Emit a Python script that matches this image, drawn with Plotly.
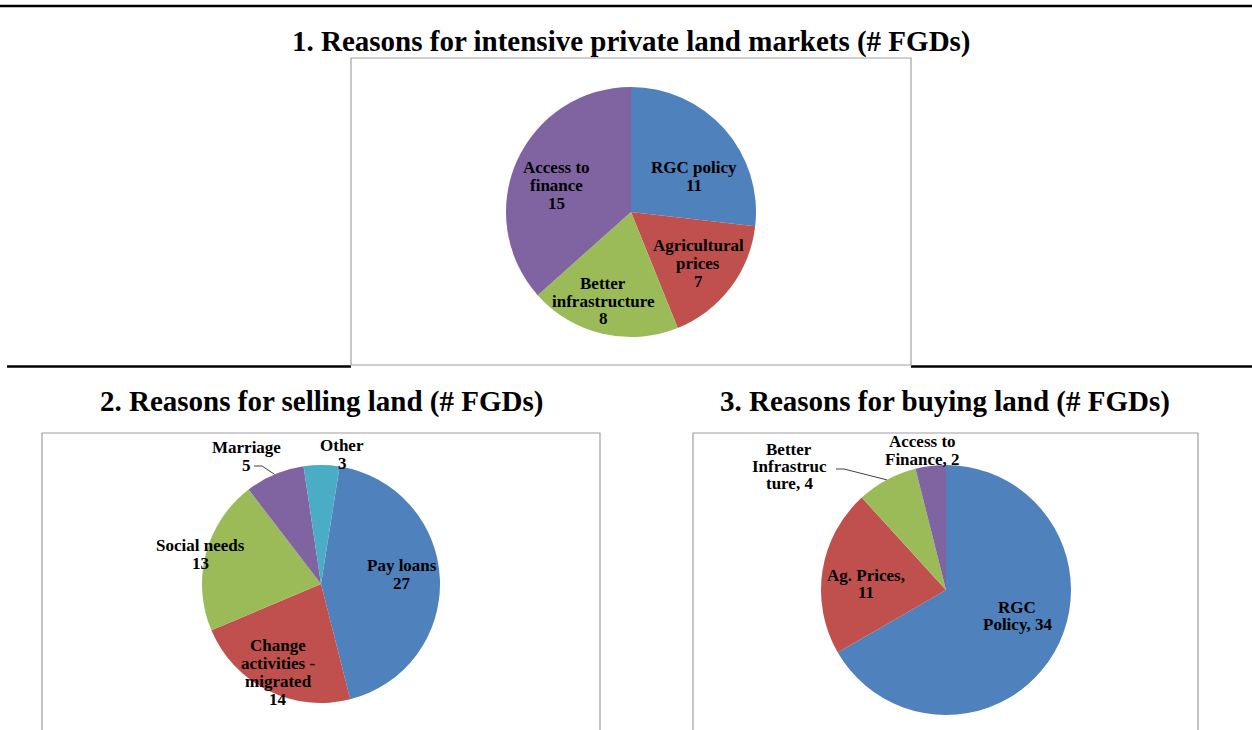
import math
import plotly.graph_objects as go

# ---------------- data ----------------
pie1_labels = ["RGC policy", "Agricultural prices", "Better infrastructure", "Access to finance"]
pie1_values = [11, 7, 8, 15]

pie2_labels = ["Pay loans", "Change activities - migrated", "Social needs", "Marriage", "Other"]
pie2_values = [27, 14, 13, 5, 3]

pie3_labels = ["RGC Policy", "Ag. Prices", "Better Infrastructure", "Access to Finance"]
pie3_values = [34, 11, 4, 2]

titles = ["1. Reasons for intensive private land markets (# FGDs)",
          "2. Reasons for selling land (# FGDs)",
          "3. Reasons for buying land (# FGDs)"]

# ---------------- styling / layout ----------------
W, H = 1252, 730
BLUE, RED, GREEN, PURPLE, CYAN = "#4F81BD", "#C0504D", "#9BBB59", "#8064A2", "#4BACC6"
pie1_colors = [BLUE, RED, GREEN, PURPLE]
pie2_colors = [BLUE, RED, GREEN, PURPLE, CYAN]
pie3_colors = [BLUE, RED, GREEN, PURPLE]
FONT = "Liberation Serif"
LABEL_SIZE = 17


def px(x):
    return x / W


def py(y):
    return 1 - y / H


def domain(cx, cy, d):
    return dict(x=[px(cx - d / 2), px(cx + d / 2)], y=[py(cy + d / 2), py(cy - d / 2)])


# pie geometry (center x, center y, diameter, rotation)
P1 = (631, 212, 250, 0)
P2 = (321, 584, 238, 9)
P3 = (946, 590, 250, 0)

fig = go.Figure()
for (cx, cy, d, rot), labs, vals, cols in [
    (P1, pie1_labels, pie1_values, pie1_colors),
    (P2, pie2_labels, pie2_values, pie2_colors),
    (P3, pie3_labels, pie3_values, pie3_colors),
]:
    fig.add_trace(go.Pie(
        labels=labs, values=vals, sort=False, direction="clockwise", rotation=rot,
        marker=dict(colors=cols, line=dict(width=0)),
        textinfo="none", hoverinfo="label+value", showlegend=False,
        domain=domain(cx, cy, d),
    ))

# label wrapping (display lines) and positions of first line
pie1_lines = [["RGC policy", "{v}"], ["Agricultural", "prices", "{v}"],
              ["Better", "infrastructure", "{v}"], ["Access to", "finance", "{v}"]]
pie1_pos = [(694, 168), (698, 245), (603, 283), (556, 168)]

pie2_lines = [["Pay loans", "{v}"], ["Change", "activities -", "migrated", "{v}"],
              ["Social needs", "{v}"], ["Marriage", "{v}"], ["Other", "{v}"]]
pie2_pos = [(402, 565), (278, 645), (200, 545), (246, 447), (342, 445)]

pie3_lines = [["RGC", "Policy, {v}"], ["Ag. Prices,", "{v}"],
              ["Better", "Infrastruc", "ture, {v}"], ["Access to", "Finance, {v}"]]
pie3_pos = [(1017, 607), (866, 575), (789, 449), (923, 442)]

annotations = []
for lines_all, pos_all, vals, sp in [
    (pie1_lines, pie1_pos, pie1_values, 18),
    (pie2_lines, pie2_pos, pie2_values, 18),
    (pie3_lines, pie3_pos, pie3_values, 17),
]:
    for lines, (x0, y0), v in zip(lines_all, pos_all, vals):
        for i, ln in enumerate(lines):
            annotations.append(dict(
                text=ln.format(v=v), x=px(x0), y=py(y0 + i * sp), xref="paper", yref="paper",
                xanchor="center", yanchor="middle", showarrow=False,
                font=dict(family=FONT, size=LABEL_SIZE, color="#000000", weight="bold"),
            ))

for t, (x, y) in zip(titles, [(631, 42), (321, 402), (945, 402)]):
    annotations.append(dict(
        text=t, x=px(x), y=py(y), xref="paper", yref="paper",
        xanchor="center", yanchor="middle", showarrow=False,
        font=dict(family=FONT, size=29, color="#000000", weight="bold"),
    ))

shapes = []
# horizontal rules
for x0, x1, y in [(0, 1252, 6), (7, 351, 366.5), (911, 1252, 366.5)]:
    shapes.append(dict(type="line", xref="paper", yref="paper", x0=px(x0), x1=px(x1),
                       y0=py(y), y1=py(y), line=dict(color="#000000", width=2.6)))
# chart frames
for x0, y0, x1, y1 in [(351, 58, 911, 365), (42, 433, 600, 760), (693, 433, 1198, 760)]:
    shapes.append(dict(type="rect", xref="paper", yref="paper", x0=px(x0), x1=px(x1),
                       y0=py(y1), y1=py(y0), line=dict(color="#A0A0A0", width=1.2)))


def edge_point(pgeom, vals, idx):
    cx, cy, d, rot = pgeom
    tot = sum(vals)
    start = rot + 360 * sum(vals[:idx]) / tot
    mid = math.radians(start + 180 * vals[idx] / tot)
    r = d / 2
    return cx + r * math.sin(mid), cy - r * math.cos(mid)


# leader lines (end at slice mid-angle on pie edge)
for pgeom, vals, idx, (sx, sy) in [(P2, pie2_values, 3, (254, 466)), (P3, pie3_values, 2, (836, 469))]:
    ex, ey = edge_point(pgeom, vals, idx)
    path = f"M {px(sx)},{py(sy)} L {px(sx + 8)},{py(sy)} L {px(ex)},{py(ey)}"
    shapes.append(dict(type="path", xref="paper", yref="paper", path=path,
                       line=dict(color="#404040", width=1)))

fig.update_layout(
    width=W, height=H, autosize=False,
    margin=dict(l=0, r=0, t=0, b=0),
    paper_bgcolor="white", plot_bgcolor="white",
    annotations=annotations, shapes=shapes, showlegend=False,
)

fig.write_html("out.html", config={"displayModeBar": False},
               post_script="document.body.style.margin='0';")
